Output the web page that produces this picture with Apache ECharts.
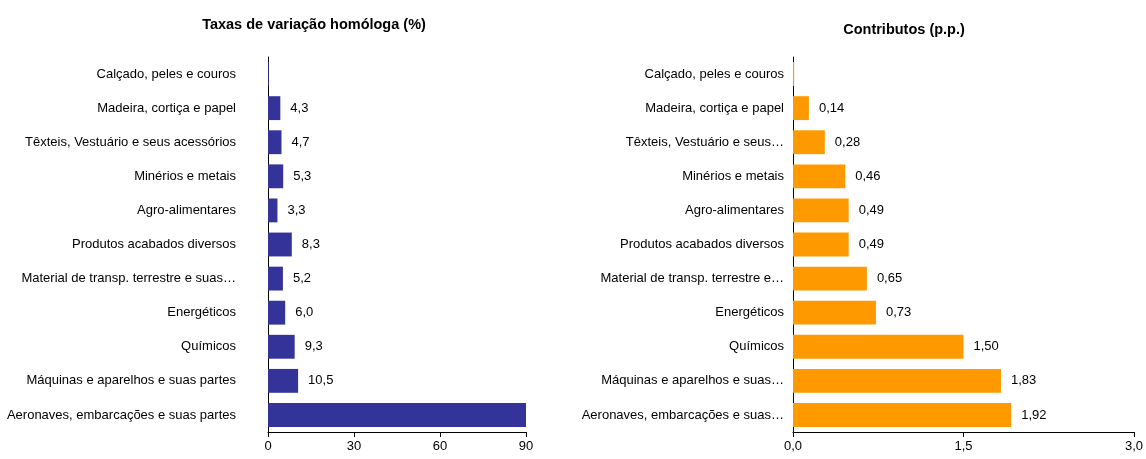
<!DOCTYPE html>
<html>
<head>
<meta charset="utf-8">
<script src="https://cdn.jsdelivr.net/npm/echarts@6/dist/echarts.min.js"></script>
<style>
  html, body { margin: 0; padding: 0; background: #fff; }
  #main { width: 1146px; height: 459px; }
</style>
</head>
<body>
<div id="main"></div>
<script>
// categorias (de cima para baixo)
var categorias = [
  'Calçado, peles e couros',
  'Madeira, cortiça e papel',
  'Têxteis, Vestuário e seus acessórios',
  'Minérios e metais',
  'Agro-alimentares',
  'Produtos acabados diversos',
  'Material de transp. terrestre e suas partes',
  'Energéticos',
  'Químicos',
  'Máquinas e aparelhos e suas partes',
  'Aeronaves, embarcações e suas partes'
];
// taxas de variação homóloga (%)
var taxas = [0.3, 4.3, 4.7, 5.3, 3.3, 8.3, 5.2, 6.0, 9.3, 10.5, 91];
// contributos (p.p.)
var contributos = [0.01, 0.14, 0.28, 0.46, 0.49, 0.49, 0.65, 0.73, 1.50, 1.83, 1.92];

var fonte = "'Liberation Sans', Arial, sans-serif";
var virgula = function (v, d) { return v.toFixed(d).replace('.', ','); };

// corta o rótulo por palavras, como no Excel
var ctx = document.createElement('canvas').getContext('2d');
ctx.font = '13px ' + fonte;
var cortar = function (texto, largura) {
  if (ctx.measureText(texto).width <= largura) return texto;
  var palavras = texto.split(' ');
  while (palavras.length > 1) {
    palavras.pop();
    var t = palavras.join(' ') + '…';
    if (ctx.measureText(t).width <= largura) return t;
  }
  return palavras[0] + '…';
};

var myChart = echarts.init(document.getElementById('main'));

var eixoX = function (idx, max, intervalo, casas) {
  return {
    type: 'value', gridIndex: idx, min: 0, max: max, interval: intervalo,
    axisLine: { show: true, lineStyle: { color: '#000' } },
    axisTick: { show: true, length: 5, lineStyle: { color: '#000' } },
    splitLine: { show: false },
    axisLabel: {
      color: '#000', fontFamily: fonte, fontSize: 13, margin: 8,
      formatter: function (v) { return virgula(v, casas); }
    }
  };
};
var eixoY = function (idx, largura, margem) {
  return {
    type: 'category', gridIndex: idx, data: categorias, inverse: true,
    axisLine: { show: true, lineStyle: { color: '#000' } },
    axisTick: { show: false },
    axisLabel: {
      color: '#000', fontFamily: fonte, fontSize: 13, margin: margem,
      formatter: function (v) { return cortar(v, largura); }
    }
  };
};

var option = {
  animation: false,
  title: [
    { text: 'Taxas de variação homóloga (%)', left: 309, top: 12, textAlign: 'center',
      textStyle: { fontFamily: fonte, fontSize: 14.5, fontWeight: 'bold', color: '#000' } },
    { text: 'Contributos (p.p.)', left: 899, top: 17, textAlign: 'center',
      textStyle: { fontFamily: fonte, fontSize: 14.5, fontWeight: 'bold', color: '#000' } }
  ],
  grid: [
    { left: 268, width: 258, top: 57, height: 375 },
    { left: 793, width: 342, top: 57, height: 375 }
  ],
  xAxis: [eixoX(0, 90, 30, 0), eixoX(1, 3, 1.5, 1)],
  yAxis: [eixoY(0, 236, 32), eixoY(1, 204, 9)],
  series: [
    {
      type: 'bar', xAxisIndex: 0, yAxisIndex: 0, data: taxas, clip: true,
      barCategoryGap: '30%',
      itemStyle: { color: '#333399' },
      label: {
        show: true, position: 'right', distance: 10, color: '#000',
        fontFamily: fonte, fontSize: 13,
        formatter: function (p) { return (p.value < 1 || p.value > 90) ? '' : virgula(p.value, 1); }
      }
    },
    {
      type: 'bar', xAxisIndex: 1, yAxisIndex: 1, data: contributos, clip: true,
      barCategoryGap: '30%',
      itemStyle: { color: '#FF9900' },
      label: {
        show: true, position: 'right', distance: 10, color: '#000',
        fontFamily: fonte, fontSize: 13,
        formatter: function (p) { return p.value < 0.05 ? '' : virgula(p.value, 2); }
      }
    }
  ]
};

myChart.setOption(option);
</script>
</body>
</html>
